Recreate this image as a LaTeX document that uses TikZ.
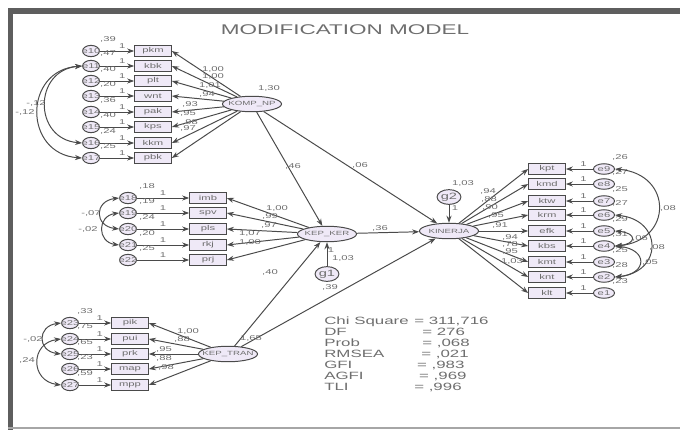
\documentclass[tikz,border=0pt]{standalone}
\usepackage{fontspec}
\setmainfont{Liberation Sans}[FakeStretch=1.6]
\usepackage{tikz}
\usetikzlibrary{shapes.geometric, arrows.meta}
\definecolor{framegray}{HTML}{5E5E5E}
\definecolor{linegray}{HTML}{4A4A4A}
\definecolor{txtgray}{HTML}{6E6E6E}
\definecolor{lav}{HTML}{EFE9F7}
\tikzset{
  obs/.style={
    rectangle,
    draw=linegray, fill=lav, line width=0.8pt,
    minimum width=26pt, minimum height=7.5pt, inner sep=0pt,
    font=\fontsize{5}{5}\selectfont, text=txtgray
    },
  err/.style={
    ellipse,
    draw=linegray, fill=lav, line width=0.7pt,
    minimum width=12pt, minimum height=8pt, inner sep=0pt,
    font=\fontsize{5}{5}\selectfont, text=txtgray
    },
  errr/.style={err, minimum width=15pt, minimum height=7.5pt},
  lat/.style={
    ellipse,
    draw=linegray, fill=lav, line width=0.7pt,
    minimum width=42pt, minimum height=11pt, inner sep=0pt,
    font=\fontsize{4.3}{4.3}\selectfont, text=txtgray
    },
  dist/.style={
    ellipse,
    draw=linegray, fill=lav, line width=0.7pt,
    minimum width=17pt, minimum height=10.5pt, inner sep=0pt,
    font=\fontsize{6.5}{6.5}\selectfont, text=txtgray
    },
  num/.style={inner sep=0pt, font=\fontsize{5}{5}\selectfont, text=txtgray},
  arrow/.style={linegray, line width=0.7pt, -{Stealth[length=5pt,width=3.6pt]}},
  cov/.style={linegray, line width=0.7pt,
    {Stealth[length=5pt,width=3.6pt]}-{Stealth[length=5pt,width=3.6pt]}},
}

\begin{document}
\begin{tikzpicture}[x=0.025cm, y=-0.025cm]
\useasboundingbox (0,0) rectangle (680,430);
% frame
\fill [framegray] (8,8) rectangle (680,14);
\fill [framegray] (8,8) rectangle (13,430);
\fill [gray!70] (8,426.5) rectangle (680,428.5);

\node (title) [text=txtgray, font=\fontsize{10}{10}\selectfont] at (345,30) {MODIFICATION MODEL};

% latent variables
\node (kompnp) [lat] at (252,104) {\makebox[0pt]{KOMP\_NP}};
\node (kepker) [lat] at (327,234) {\makebox[0pt]{KEP\_KER}};
\node (keptran) [lat] at (228,354) {\makebox[0pt]{KEP\_TRAN}};
\node (kinerja) [lat] at (449,231) {\makebox[0pt]{KINERJA}};
\node (g1) [dist] at (327,274) {g1};
\node (g2) [dist] at (449,197) {g2};

% KOMP_NP indicators
\foreach \ename/\iname/\ypos/\vval in {e10/pkm/51/39, e11/kbk/66/47, e12/plt/81/40,
    e13/wnt/96/20, e14/pak/112/36, e15/kps/127/40, e16/kkm/143/24, e17/pbk/158/25}{
  \node (\ename) [err] at (91,\ypos) {\makebox[0pt]{\ename}};
  \node (\iname) [obs] at (153,\ypos) {\iname};
  \node (v\ename) [num] at (108,\ypos-12) {,\vval};
  \draw [arrow] (\ename) -- node[num, above=1.5pt, pos=0.65] {1} (\iname);
  \draw [arrow] (kompnp) -- (\iname.east);
}

% KEP_KER indicators
\foreach \ename/\iname/\ypos/\vval in {e18/imb/198/18, e19/spv/213/19, e20/pls/229/24,
    e21/rkj/245/20, e22/prj/260/25}{
  \node (\ename) [err] at (128,\ypos) {\makebox[0pt]{\ename}};
  \node (\iname) [obs] at (208,\ypos) {\iname};
  \node (v\ename) [num] at (147,\ypos-12) {,\vval};
  \draw [arrow] (\ename) -- node[num, above=1.5pt, pos=0.5] {1} (\iname);
  \draw [arrow] (kepker) -- (\iname.east);
}

% KEP_TRAN indicators
\foreach \ename/\iname/\ypos/\vval in {e23/pik/323/33, e24/pui/339/75, e25/prk/354/65,
    e26/map/369/23, e27/mpp/385/59}{
  \node (\ename) [err] at (70,\ypos) {\makebox[0pt]{\ename}};
  \node (\iname) [obs] at (130,\ypos) {\iname};
  \node (v\ename) [num] at (85,\ypos-12) {,\vval};
  \draw [arrow] (\ename) -- node[num, above=1.5pt, pos=0.65] {1} (\iname);
  \draw [arrow] (keptran) -- (\iname.east);
}

% KINERJA indicators
\foreach \ename/\iname/\ypos/\vval in {e9/kpt/169/26, e8/kmd/184/27, e7/ktw/201/25,
    e6/krm/215/27, e5/efk/231/29, e4/kbs/246/31, e3/kmt/262/25, e2/knt/277/28, e1/klt/293/23}{
  \node (\iname) [obs] at (547,\ypos) {\iname};
  \node (\ename) [errr] at (604,\ypos) {\makebox[0pt]{\ename}};
  \node (v\ename) [num] at (620,\ypos-12) {,\vval};
  \draw [arrow] (\ename) -- node[num, above=1.5pt, pos=0.35] {1} (\iname);
  \draw [arrow] (kinerja) -- (\iname.west);
}

% loadings
\foreach \x/\y/\lbl [count=\i] in {213/69/{1,00}, 213/76/{1,00}, 210/85/{1,01}, 207/94/{,94},
    190/104/{,93}, 188/113/{,95}, 190/122/{,98}, 188/128/{,97}}
  \node (la\i) [num] at (\x,\y) {\lbl};
\foreach \x/\y/\lbl [count=\i] in {277/208/{1,00}, 270/216/{,99}, 269/225/{,97},
    250/233/{1,07}, 250/242/{1,00}}
  \node (lb\i) [num] at (\x,\y) {\lbl};
\foreach \x/\y/\lbl [count=\i] in {188/331/{1,00}, 182/339/{,88}, 164/349/{,95},
    164/358/{,88}, 166/367/{,98}}
  \node (lc\i) [num] at (\x,\y) {\lbl};
\foreach \x/\y/\lbl [count=\i] in {488/191/{,94}, 489/199/{,88}, 490/207/{,90}, 496/215/{,95},
    500/225/{,91}, 510/237/{,94}, 510/244/{,78}, 510/251/{,95}, 512/261/{1,03}}
  \node (ld\i) [num] at (\x,\y) {\lbl};

% structural paths
\draw [arrow] (kompnp) -- (kepker);
\draw [arrow] (kompnp) -- (kinerja);
\draw [arrow] (kepker) -- (kinerja);
\draw [arrow] (keptran) -- (kepker);
\draw [arrow] (keptran) -- (kinerja);
\draw [arrow] (g1) -- (kepker);
\draw [arrow] (g2) -- (kinerja);
\node (p46) [num] at (293,166) {,46};
\node (p06) [num] at (360,165) {,06};
\node (p36) [num] at (380,228) {,36};
\node (p40) [num] at (270,272) {,40};
\node (p39) [num] at (330,287) {,39};
\node (vkomp) [num] at (269,88) {1,30};
\node (vtran) [num] at (251,338) {1,65};
\node (w1) [num] at (331,250) {1};
\node (vg1) [num] at (343,258) {1,03};
\node (w2) [num] at (455,208) {1};
\node (vg2) [num] at (463,183) {1,03};

% covariances
\draw [cov] (e11.west) .. controls +(-49,4) and +(-49,-4) .. (e16.west);
\draw [cov] (e11.west) .. controls +(-59,4) and +(-59,-4) .. (e17.west);
\node (c1) [num] at (36,103) {-,12};
\node (c2) [num] at (25,112) {-,12};
\draw [cov] (e18.west) .. controls +(-25,3) and +(-25,-3) .. (e20.west);
\draw [cov] (e19.west) .. controls +(-22,3) and +(-22,-3) .. (e21.west);
\node (c3) [num] at (91,213) {-,07};
\node (c4) [num] at (88,229) {-,02};
\draw [cov] (e23.west) .. controls +(-24,3) and +(-24,-3) .. (e25.west);
\draw [cov] (e24.west) .. controls +(-31,4) and +(-31,-4) .. (e27.west);
\node (c5) [num] at (33,339) {-,02};
\node (c6) [num] at (27,360) {,24};
\draw [cov] (e9.east) .. controls +(58,5) and +(58,-5) .. (e4.east);
\draw [cov] (e5.east) .. controls +(22,2) and +(22,-2) .. (e4.east);
\draw [cov] (e6.east) .. controls +(48,5) and +(48,-5) .. (e2.east);
\draw [cov] (e4.east) .. controls +(33,3) and +(33,-3) .. (e2.east);
\node (c7) [num] at (668,208) {,08};
\node (c8) [num] at (640,238) {,06};
\node (c9) [num] at (657,247) {,08};
\node (c10) [num] at (650,262) {,05};

% fit indices
\node (stats) [anchor=north west, inner sep=0pt, text=txtgray,
  font=\fontsize{7.5}{7.8}\selectfont] at (324,317) {%
  \begin{tabular}{@{}p{64pt}@{}l@{}}
  Chi Square & = 311,716\\
  DF & \hspace{5.7pt}= 276\\
  Prob & \hspace{5.7pt}= ,068\\
  RMSEA & \hspace{5pt}= ,021\\
  GFI & \hspace{2pt}= ,983\\
  AGFI & \hspace{3.5pt}= ,969\\
  TLI & = ,996
  \end{tabular}};
\end{tikzpicture}
\end{document}
